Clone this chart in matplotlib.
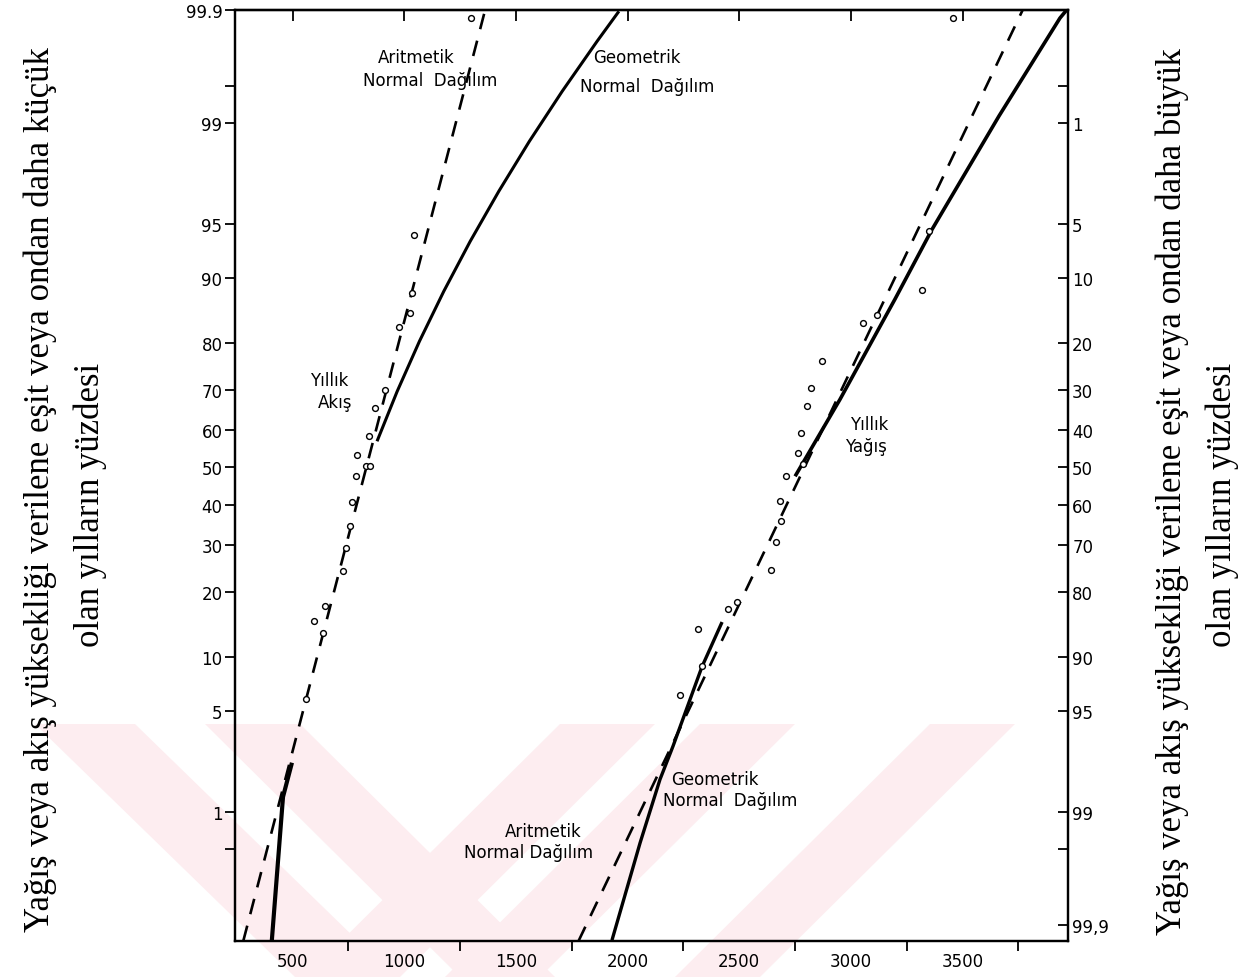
import math
import numpy as np
import matplotlib
matplotlib.use("Agg")
import matplotlib.pyplot as plt
from matplotlib.patches import Polygon

# ---------------- data ----------------
# Yıllık Akış (annual runoff) observations: value and non-exceedance percent
akis_values = [1299, 1043, 1034, 1026, 976, 914, 869, 842, 788, 828, 846,
               784, 766, 757, 739, 725, 645, 596, 636, 560]
akis_percent = [99.88, 94.2, 88.1, 85.2, 82.8, 69.9, 65.5, 58.3, 53.2, 50.3, 50.3,
                47.6, 40.7, 34.5, 29.4, 24.1, 17.4, 14.9, 13.2, 5.9]

# Yıllık Yağış (annual precipitation) observations
yagis_values = [3457, 3350, 3318, 3117, 3054, 2871, 2821, 2803, 2777, 2763, 2785,
                2709, 2682, 2687, 2665, 2642, 2490, 2450, 2315, 2333, 2235]
yagis_percent = [99.88, 94.5, 88.4, 84.9, 83.6, 76.3, 70.3, 66.2, 59.3, 53.8, 50.8,
                 47.6, 40.9, 35.8, 30.6, 24.5, 18.1, 16.9, 13.7, 9.0, 6.2]

# Arithmetic normal distribution lines (two points each)
akis_arit_values = [298, 1362]
akis_arit_percent = [0.1, 99.9]
yagis_arit_values = [1815, 3769]
yagis_arit_percent = [0.1, 99.9]

# Geometric normal distribution curves (lower and upper drawn parts)
akis_geo_low_values = [407, 457, 497]
akis_geo_low_percent = [0.07, 1.3, 2.3]
akis_geo_up_values = [878, 968, 1068, 1177, 1295, 1423, 1560, 1707, 1863, 1961]
akis_geo_up_percent = [57.0, 69.6, 80.3, 88.3, 93.66, 96.89, 98.62, 99.447, 99.80, 99.897]
yagis_geo_low_values = [1930, 2056, 2145, 2203, 2333, 2423]
yagis_geo_low_percent = [0.07, 0.56, 1.75, 2.97, 8.9, 14.8]
yagis_geo_up_values = [2750, 2951, 3197, 3363, 3663, 3936, 3966]
yagis_geo_up_percent = [47.6, 67.7, 87.2, 94.6, 99.12, 99.88, 99.9]

# Axis ticks
left_ticks = [99.9, 99, 95, 90, 80, 70, 60, 50, 40, 30, 20, 10, 5, 1]
left_labels = ["99.9", "99", "95", "90", "80", "70", "60", "50", "40", "30", "20", "10", "5", "1"]
right_ticks = [1, 5, 10, 20, 30, 40, 50, 60, 70, 80, 90, 95, 99, 99.9]
right_labels = ["1", "5", "10", "20", "30", "40", "50", "60", "70", "80", "90", "95", "99", "99,9"]
minor_percent = [99.5, 0.5]
x_labels = [500, 1000, 1500, 2000, 2500, 3000, 3500]
x_bottom_minor = [750, 1250, 1750, 2250, 2750, 3250, 3750]


def ppf(p):
    """Standard normal quantile for probability p (0..1) by bisection."""
    lo, hi = -10.0, 10.0
    for _ in range(80):
        mid = 0.5 * (lo + hi)
        if 0.5 * (1 + math.erf(mid / math.sqrt(2))) < p:
            lo = mid
        else:
            hi = mid
    return 0.5 * (lo + hi)


def z(percents):
    return np.array([ppf(p / 100.0) for p in percents])


W, H = 1253, 978
fig = plt.figure(figsize=(W / 100, H / 100), dpi=100)

# ---- faint watermark in background ----
bg = fig.add_axes([0, 0, 1, 1], zorder=-5)
bg.set_xlim(0, W)
bg.set_ylim(H, 0)
bg.axis("off")
pink = "#fdedf0"
bands = [
    [(35, 725), (135, 725), (395, 978), (295, 978)],
    [(205, 725), (300, 725), (555, 978), (460, 978)],
    [(560, 725), (655, 725), (400, 978), (305, 978)],
    [(700, 725), (795, 725), (540, 978), (445, 978)],
    [(930, 725), (1015, 725), (760, 978), (675, 978)],
]
for b in bands:
    bg.add_patch(Polygon(b, closed=True, facecolor=pink, edgecolor="none"))

# ---- main axes ----
L, R, T, B = 235, 1068, 11, 942
ax = fig.add_axes([L / W, 1 - B / H, (R - L) / W, (B - T) / H])
ax.patch.set_alpha(0)
ax.set_xlim(242, 3972)
ax.set_ylim(-3.20, ppf(0.999))

# arithmetic normal (dashed straight lines)
for xs, ps in [(akis_arit_values, akis_arit_percent), (yagis_arit_values, yagis_arit_percent)]:
    zz = z(ps)
    ax.axline((xs[0], zz[0]), (xs[1], zz[1]), color="black", lw=1.9,
              dashes=(6, 4.5), zorder=2)

# geometric normal (solid curves)
for xs, ps, lw in [(akis_geo_low_values, akis_geo_low_percent, 3.0),
                   (akis_geo_up_values, akis_geo_up_percent, 2.2),
                   (yagis_geo_low_values, yagis_geo_low_percent, 2.4),
                   (yagis_geo_up_values, yagis_geo_up_percent, 2.6)]:
    ax.plot(xs, z(ps), color="black", lw=lw, solid_capstyle="butt",
            solid_joinstyle="round", zorder=3)

# observations
for xs, ps in [(akis_values, akis_percent), (yagis_values, yagis_percent)]:
    ax.plot(xs, z(ps), linestyle="none", marker="o", markersize=4.2,
            markerfacecolor="white", markeredgecolor="black", markeredgewidth=1.0,
            zorder=4, clip_on=False)

for s in ax.spines.values():
    s.set_linewidth(1.6)

tick_font = dict(family="DejaVu Sans", size=12)

# left axis
ax.set_yticks(z(left_ticks))
ax.set_yticklabels(left_labels, **tick_font)
ax.set_yticks(z(minor_percent), minor=True)
ax.tick_params(axis="y", which="both", direction="out", length=7, width=1.3, pad=2)

# bottom axis
ax.set_xticks(x_labels)
ax.set_xticklabels([str(v) for v in x_labels], **tick_font)
ax.set_xticks(x_bottom_minor, minor=True)
ax.tick_params(axis="x", which="major", length=0, pad=8)
ax.tick_params(axis="x", which="minor", direction="out", length=7, width=1.3)

# top ticks (inward)
sec_top = ax.secondary_xaxis("top")
sec_top.set_xticks(x_labels)
sec_top.set_xticklabels([])
sec_top.tick_params(direction="in", length=8, width=1.3)
sec_top.spines["top"].set_linewidth(1.6)

# right axis (exceedance percent)
axr = ax.twinx()
axr.set_ylim(ax.get_ylim())
axr.patch.set_alpha(0)
axr.set_yticks(z([100 - p for p in right_ticks]))
axr.set_yticklabels(right_labels, **tick_font)
axr.set_yticks(z([100 - p for p in minor_percent]), minor=True)
axr.tick_params(axis="y", which="both", direction="in", length=7, width=1.3, pad=3)
for s in axr.spines.values():
    s.set_linewidth(1.6)

# annotations (pixel coordinates of the figure)
ann = dict(family="DejaVu Sans", size=12, color="black", ha="center", va="center")


def ftext(x, y, s, **kw):
    d = dict(ann)
    d.update(kw)
    fig.text(x / W, 1 - y / H, s, **d)


ftext(416, 58, "Aritmetik")
ftext(430, 81, "Normal  Dağılım")
ftext(637, 58, "Geometrik")
ftext(647, 87, "Normal  Dağılım")
ftext(329, 381, "Yıllık")
ftext(335, 403, "Akış")
ftext(869, 425, "Yıllık")
ftext(866, 447, "Yağış")
ftext(715, 780, "Geometrik")
ftext(730, 801, "Normal  Dağılım")
ftext(543, 832, "Aritmetik")
ftext(529, 853, "Normal Dağılım")

# axis titles (serif, rotated)
serif = dict(family="Liberation Serif", size=25, rotation=90, ha="center", va="center")
fig.text(40 / W, 1 - 490 / H,
         "Yağış veya akış yüksekliği verilene eşit veya ondan daha küçük", **serif)
fig.text(90 / W, 1 - 505 / H, "olan yılların yüzdesi", **serif)
fig.text(1172 / W, 1 - 492 / H,
         "Yağış veya akış yüksekliği verilene eşit veya ondan daha büyük", **serif)
fig.text(1222 / W, 1 - 505 / H, "olan yılların yüzdesi", **serif)

fig.savefig("out.png", dpi=100)
